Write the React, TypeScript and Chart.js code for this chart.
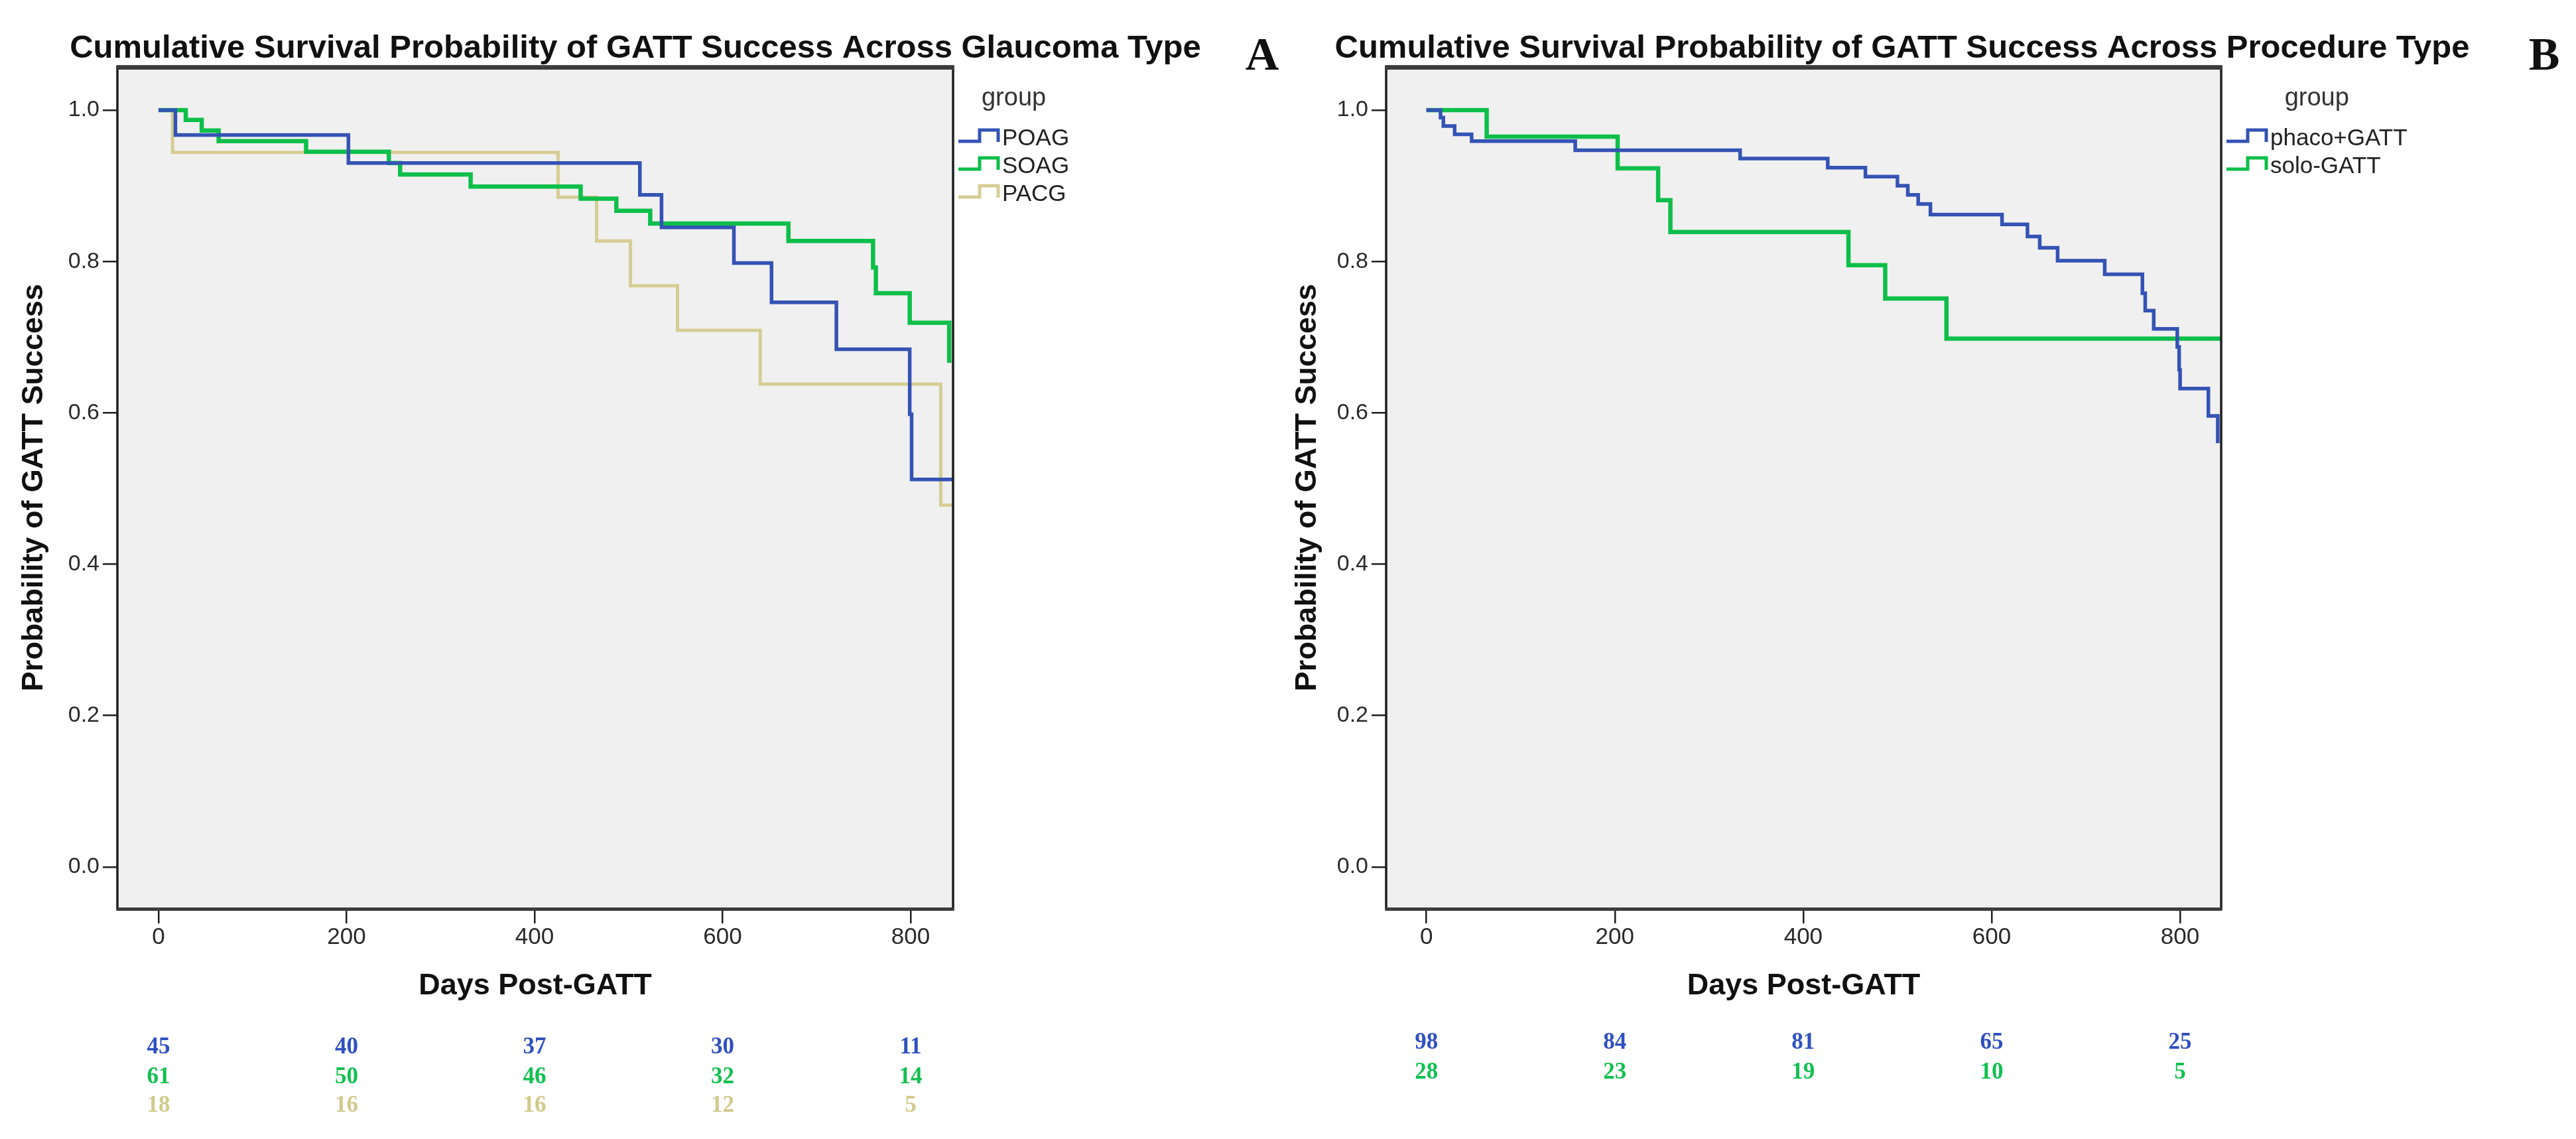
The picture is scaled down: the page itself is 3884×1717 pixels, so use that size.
import { useEffect, useRef } from "react"
import { Chart, registerables } from "chart.js"

Chart.register(...registerables)

const sans = "'Liberation Sans', Arial, sans-serif"
const serif = "'Liberation Serif', 'Times New Roman', serif"

// axis ticks
const dayTicks = [0, 200, 400, 600, 800]
const probTicks = [0, 0.2, 0.4, 0.6, 0.8, 1.0]

// Panel A - glaucoma type (event day, survival after the step)
const poagDays = [0, 18, 202, 512, 535, 612, 652, 721, 799, 801, 845]
const poagSurv = [1.0, 0.967, 0.93, 0.888, 0.845, 0.798, 0.746, 0.684, 0.598, 0.512, 0.512]
const soagDays = [0, 29, 46, 64, 157, 245, 257, 332, 449, 487, 523, 670, 760, 763, 799, 841]
const soagSurv = [1.0, 0.987, 0.973, 0.959, 0.945, 0.93, 0.915, 0.899, 0.883, 0.867, 0.85, 0.827, 0.792, 0.758, 0.719, 0.666]
const pacgDays = [0, 15, 425, 466, 502, 552, 640, 832, 845]
const pacgSurv = [1.0, 0.944, 0.885, 0.827, 0.768, 0.709, 0.638, 0.478, 0.478]

const poagAtRisk = [45, 40, 37, 30, 11]
const soagAtRisk = [61, 50, 46, 32, 14]
const pacgAtRisk = [18, 16, 16, 12, 5]

// Panel B - procedure type
const phacoDays = [0, 15, 18, 30, 48, 158, 333, 426, 466, 500, 511, 522, 535, 611, 638, 651, 670, 720, 760, 763, 772, 797, 799, 800, 830, 840]
const phacoSurv = [1.0, 0.99, 0.979, 0.968, 0.959, 0.947, 0.936, 0.924, 0.912, 0.9, 0.888, 0.876, 0.862, 0.849, 0.833, 0.818, 0.801, 0.783, 0.758, 0.735, 0.711, 0.687, 0.657, 0.632, 0.596, 0.56]
const soloDays = [0, 64, 203, 246, 259, 448, 487, 552, 845]
const soloSurv = [1.0, 0.965, 0.923, 0.881, 0.839, 0.795, 0.751, 0.698, 0.698]

const phacoAtRisk = [98, 84, 81, 65, 25]
const soloAtRisk = [28, 23, 19, 10, 5]

const BLUE = "#3553b4"
const GREEN = "#0dbf4a"
const TAN = "#d6cd94"

interface Series {
  label: string
  days: number[]
  surv: number[]
  atRisk: number[]
  color: string
  riskColor: string
  width: number
}

interface PanelProps {
  left: number
  width: number
  title: string
  titleX: number
  letter: string
  letterX: number
  chartLeft: number
  chartRight: number
  xMin: number
  xMax: number
  yTitlePad: number
  riskRows: number[]
  series: Series[]
}

function makeDecor(p: PanelProps) {
  return {
    id: "panelDecor",
    beforeDraw(chart: Chart) {
      const { ctx, chartArea: a } = chart
      ctx.save()
      ctx.fillStyle = "#f0f0f0"
      ctx.fillRect(a.left, a.top, a.right - a.left, a.bottom - a.top)
      ctx.restore()
    },
    afterDatasetsDraw(chart: Chart) {
      const { ctx, chartArea: a } = chart
      ctx.save()
      ctx.strokeStyle = "#1e1e1e"
      ctx.lineWidth = 3.5
      ctx.strokeRect(a.left, a.top, a.right - a.left, a.bottom - a.top)
      ctx.fillStyle = "#3c3c3c"
      ctx.fillRect(a.left - 1.5, a.top - 1, a.right - a.left + 3, 6)
      ctx.fillRect(a.left - 1.5, a.bottom - 2, a.right - a.left + 3, 5)
      ctx.restore()
    },
    afterDraw(chart: Chart) {
      const { ctx, chartArea: a } = chart
      const x = chart.scales.x
      ctx.save()
      // title and panel letter
      ctx.fillStyle = "#111"
      ctx.textAlign = "center"
      ctx.textBaseline = "alphabetic"
      ctx.font = `bold 49px ${sans}`
      ctx.fillText(p.title, p.titleX, 87)
      ctx.font = `bold 70px ${serif}`
      ctx.fillText(p.letter, p.letterX, 105)

      // legend with step icons
      const iconX = a.right + 8
      const labelX = iconX + 66
      ctx.font = `35px ${sans}`
      const maxW = Math.max(...p.series.map((s) => ctx.measureText(s.label).width))
      ctx.fillStyle = "#333"
      ctx.font = `38px ${sans}`
      ctx.fillText("group", iconX + (66 + maxW) / 2, 159)
      ctx.font = `35px ${sans}`
      ctx.textAlign = "left"
      ctx.textBaseline = "middle"
      p.series.forEach((s, i) => {
        const cy = 208 + i * 42
        ctx.strokeStyle = s.color
        ctx.lineWidth = 5
        ctx.lineJoin = "miter"
        ctx.beginPath()
        ctx.moveTo(iconX, cy + 5)
        ctx.lineTo(iconX + 32, cy + 5)
        ctx.lineTo(iconX + 32, cy - 12)
        ctx.lineTo(iconX + 60, cy - 12)
        ctx.lineTo(iconX + 60, cy + 6)
        ctx.stroke()
        ctx.fillStyle = "#222"
        ctx.fillText(s.label, labelX, cy + 1)
      })

      // numbers at risk under each day tick
      ctx.textAlign = "center"
      ctx.font = `bold 35px ${serif}`
      p.series.forEach((s, r) => {
        ctx.fillStyle = s.riskColor
        s.atRisk.forEach((n, i) => {
          ctx.fillText(String(n), x.getPixelForValue(dayTicks[i]), p.riskRows[r])
        })
      })
      ctx.restore()
    },
  }
}

function Panel(p: PanelProps) {
  const canvasRef = useRef<HTMLCanvasElement>(null)

  useEffect(() => {
    if (!canvasRef.current) return
    const tickGrid = {
      display: true,
      drawOnChartArea: false,
      drawTicks: true,
      tickLength: 22,
      color: "#1e1e1e",
      lineWidth: 2.5,
    }
    const chart = new Chart(canvasRef.current, {
      type: "line",
      data: {
        datasets: p.series.map((s) => ({
          label: s.label,
          data: s.days.map((d, i) => ({ x: d, y: s.surv[i] })),
          borderColor: s.color,
          borderWidth: s.width,
          stepped: "before" as const,
          pointRadius: 0,
          fill: false,
          tension: 0,
          borderJoinStyle: "miter" as const,
          borderCapStyle: "butt" as const,
        })),
      },
      options: {
        responsive: false,
        animation: false,
        layout: { padding: { top: 100, left: 0, right: p.width - p.chartRight, bottom: 200 } },
        plugins: {
          legend: { display: false },
          title: { display: false },
          tooltip: { enabled: false },
        },
        scales: {
          x: {
            type: "linear",
            min: p.xMin,
            max: p.xMax,
            afterBuildTicks: (s: any) => {
              s.ticks = dayTicks.map((v) => ({ value: v }))
            },
            afterFit: (s: any) => {
              s.height = 147
            },
            grid: tickGrid,
            border: { display: false },
            ticks: {
              font: { family: sans, size: 35 },
              color: "#2a2a2a",
              padding: 0,
              maxRotation: 0,
              autoSkip: false,
              callback: (v: any) => String(v),
            },
            title: {
              display: true,
              text: "Days Post-GATT",
              font: { family: sans, size: 45, weight: "bold" },
              color: "#111",
              padding: { top: 0, bottom: 3 },
            },
          },
          y: {
            type: "linear",
            min: -0.0553,
            max: 1.0578,
            afterBuildTicks: (s: any) => {
              s.ticks = probTicks.map((v) => ({ value: v }))
            },
            afterFit: (s: any) => {
              s.width = p.chartLeft
            },
            grid: tickGrid,
            border: { display: false },
            ticks: {
              font: { family: sans, size: 34 },
              color: "#2a2a2a",
              padding: 5,
              callback: (v: any) => Number(v).toFixed(1),
            },
            title: {
              display: true,
              text: "Probability of GATT Success",
              font: { family: sans, size: 45, weight: "bold" },
              color: "#111",
              padding: { top: p.yTitlePad, bottom: 0 },
            },
          },
        },
      },
      plugins: [makeDecor(p)],
    })
    return () => {
      chart.destroy()
    }
  }, [])

  return (
    <canvas
      ref={canvasRef}
      width={p.width}
      height={1717}
      style={{ position: "absolute", left: p.left, top: 0 }}
    />
  )
}

const panelA: PanelProps = {
  left: 0,
  width: 1940,
  title: "Cumulative Survival Probability of GATT Success Across Glaucoma Type",
  titleX: 958,
  letter: "A",
  letterX: 1903,
  chartLeft: 177,
  chartRight: 1437,
  xMin: -43.7,
  xMax: 845.1,
  yTitlePad: 25,
  riskRows: [1579, 1624, 1667],
  series: [
    { label: "POAG", days: poagDays, surv: poagSurv, atRisk: poagAtRisk, color: BLUE, riskColor: "#3050c0", width: 5.5 },
    { label: "SOAG", days: soagDays, surv: soagSurv, atRisk: soagAtRisk, color: GREEN, riskColor: "#12c050", width: 6.5 },
    { label: "PACG", days: pacgDays, surv: pacgSurv, atRisk: pacgAtRisk, color: TAN, riskColor: "#d2ca8c", width: 5 },
  ],
}

const panelB: PanelProps = {
  left: 1940,
  width: 1944,
  title: "Cumulative Survival Probability of GATT Success Across Procedure Type",
  titleX: 928,
  letter: "B",
  letterX: 1896,
  chartLeft: 150,
  chartRight: 1409,
  xMin: -42.7,
  xMax: 843.6,
  yTitlePad: 5,
  riskRows: [1572, 1617],
  series: [
    { label: "phaco+GATT", days: phacoDays, surv: phacoSurv, atRisk: phacoAtRisk, color: BLUE, riskColor: "#3050c0", width: 5.5 },
    { label: "solo-GATT", days: soloDays, surv: soloSurv, atRisk: soloAtRisk, color: GREEN, riskColor: "#12c050", width: 6.5 },
  ],
}

export default function App() {
  return (
    <div
      style={{
        position: "fixed",
        left: 0,
        top: 0,
        width: 3884,
        height: 1717,
        background: "#fff",
        overflow: "hidden",
      }}
    >
      <Panel {...panelA} />
      <Panel {...panelB} />
    </div>
  )
}
